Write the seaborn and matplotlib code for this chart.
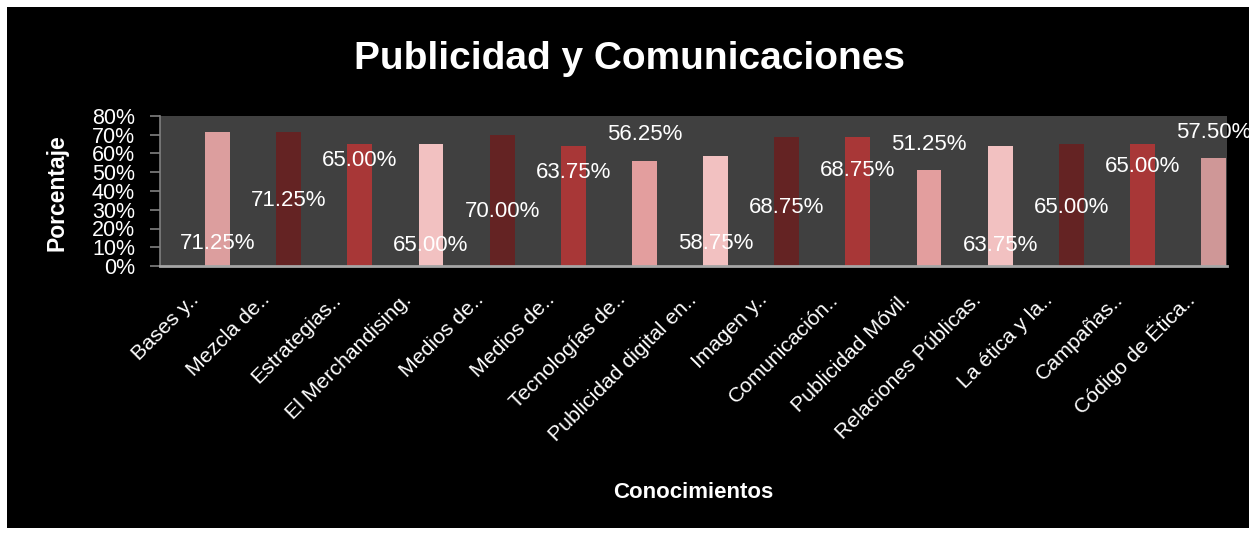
import matplotlib
matplotlib.use("Agg")
import matplotlib.pyplot as plt
import matplotlib.transforms as mtransforms
from matplotlib.patches import Rectangle
import seaborn as sns
import pandas as pd

categories = ["Bases y..", "Mezcla de..", "Estrategias..", "El Merchandising.",
              "Medios de..", "Medios de..", "Tecnologías de..", "Publicidad digital en..",
              "Imagen y..", "Comunicación..", "Publicidad Móvil.", "Relaciones Públicas.",
              "La ética y la..", "Campañas..", "Código de Ética.."]
values = [71.25, 71.25, 65.00, 65.00, 70.00, 63.75, 56.25, 58.75,
          68.75, 68.75, 51.25, 63.75, 65.00, 65.00, 57.50]
yticks = [0, 10, 20, 30, 40, 50, 60, 70, 80]
ytick_labels = ["0%", "10%", "20%", "30%", "40%", "50%", "60%", "70%", "80%"]

# style: bar colours and (misplaced) data label heights as in the original
bar_colors = ["#DC9E9E", "#642323", "#A83737", "#F2C1C1", "#642323", "#A83737",
              "#E39E9E", "#F2C1C1", "#642323", "#A83737", "#E39E9E", "#F2C1C1",
              "#642323", "#A83737", "#CF9797"]
label_heights = [12, 35, 56.5, 11, 29, 50, 70, 12, 31, 51, 65, 11, 31, 53, 71]

sns.set_theme(style="dark")
plt.rcParams["font.family"] = ["Liberation Sans", "DejaVu Sans"]

fig = plt.figure(figsize=(12.57, 5.35), dpi=100, facecolor="white")
fig.patches.append(Rectangle((7 / 1257, 7 / 535), 1242 / 1257, 521 / 535,
                             transform=fig.transFigure, facecolor="black",
                             edgecolor="none", zorder=-10))
ax = fig.add_axes([160 / 1257, 1 - 266 / 535, 1067 / 1257, 150 / 535])
ax.set_zorder(1)
ax.set_facecolor("#404040")

df = pd.DataFrame({"cat": [f"{i}" for i in range(len(categories))], "val": values})
sns.barplot(data=df, x="cat", y="val", hue="cat", palette=bar_colors,
            legend=False, width=0.35, saturation=1, ax=ax, edgecolor="none")

shift = 0.31
ax.set_xlim(-0.5 - shift, len(categories) - 0.5 - shift)
ax.set_ylim(0, 80)
ax.set_yticks(yticks)
ax.set_yticklabels(ytick_labels, fontsize=15.5, color="white")
ax.set_xticks(range(len(categories)))
ax.set_xticklabels(categories, fontsize=15.3, color="white", rotation=45,
                   ha="right", va="center", rotation_mode="anchor")
ax.tick_params(axis="y", left=True, length=7, width=1.2, color="#808080", pad=11)
ax.tick_params(axis="x", bottom=False, pad=16)

# move x tick labels back to the slot centres
off = mtransforms.ScaledTranslation(-22 / 100, 0, fig.dpi_scale_trans)
for lbl in ax.get_xticklabels():
    lbl.set_transform(lbl.get_transform() + off)

for i, (v, h) in enumerate(zip(values, label_heights)):
    ax.text(i, h, f"{v:.2f}%", color="white", fontsize=16,
            ha="center", va="center")

for s in ["top", "right"]:
    ax.spines[s].set_visible(False)
ax.spines["left"].set_color("#808080")
ax.spines["left"].set_linewidth(1.2)
ax.spines["bottom"].set_color("#A6A6A6")
ax.spines["bottom"].set_linewidth(2)
ax.grid(False)

ax.set_ylabel("Porcentaje", fontsize=16.5, fontweight="bold", color="white")
ax.yaxis.set_label_coords(-0.0855, 0.49)
ax.set_xlabel("Conocimientos", fontsize=16, fontweight="bold", color="white")
ax.xaxis.set_label_coords(0.5, -1.44)

fig.text(0.501, 1 - 59 / 535, "Publicidad y Comunicaciones", fontsize=28,
         fontweight="bold", color="white", ha="center", va="center")

fig.savefig("out.png", dpi=100, facecolor=fig.get_facecolor())
